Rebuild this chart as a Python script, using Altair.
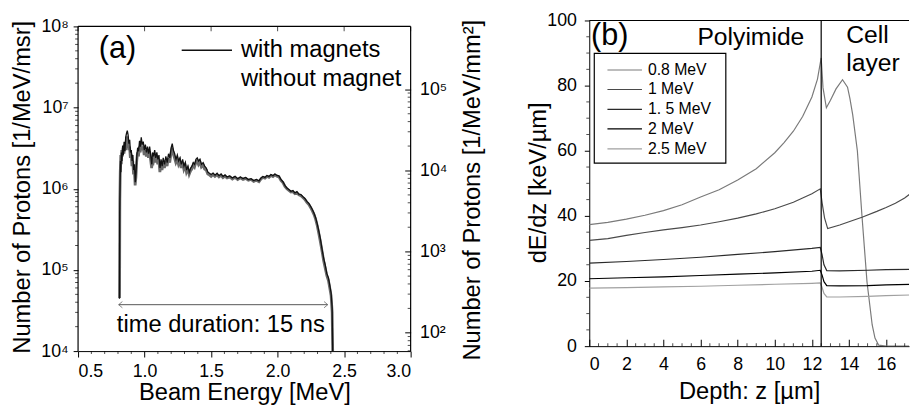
import altair as alt
import pandas as pd

FONT = "Liberation Sans"

# ---------------- Panel (a): proton spectrum ----------------
energy_with = [0.811, 0.813, 0.816, 0.819, 0.822, 0.826, 0.830, 0.835, 0.840, 0.846,
               0.852, 0.858, 0.864, 0.870, 0.876, 0.882, 0.888, 0.894, 0.900, 0.906,
               0.912, 0.918, 0.924, 0.930, 0.936, 0.942, 0.948, 0.955, 0.962, 0.968,
               0.975, 0.982, 0.990, 0.998, 1.006, 1.014, 1.022, 1.030, 1.038, 1.046,
               1.054, 1.060, 1.068, 1.076, 1.084, 1.092, 1.100, 1.108, 1.116, 1.124,
               1.132, 1.140, 1.150, 1.160, 1.170, 1.180, 1.190, 1.200, 1.208, 1.216,
               1.226, 1.236, 1.246, 1.256, 1.266, 1.276, 1.286, 1.296, 1.306, 1.316,
               1.326, 1.336, 1.346, 1.356, 1.366, 1.376, 1.386, 1.396, 1.406, 1.416,
               1.428, 1.440, 1.452, 1.464, 1.476, 1.488, 1.500, 1.515, 1.530, 1.545,
               1.560, 1.575, 1.590, 1.605, 1.620, 1.640, 1.660, 1.680, 1.700, 1.720,
               1.740, 1.760, 1.780, 1.800, 1.820, 1.840, 1.860, 1.875, 1.890, 1.905,
               1.920, 1.935, 1.950, 1.965, 1.980, 1.995, 2.010, 2.025, 2.040, 2.055,
               2.070, 2.085, 2.100, 2.115, 2.130, 2.145, 2.160, 2.175, 2.190, 2.205,
               2.220, 2.235, 2.250, 2.262, 2.274, 2.286, 2.298, 2.310, 2.322, 2.334,
               2.346, 2.358, 2.370, 2.382, 2.392, 2.402, 2.410, 2.414]
protons_with = [4.4e4, 5.0e5, 1.2e6, 2.2e6, 1.6e6, 2.8e6, 2.2e6, 3.4e6, 2.6e6, 3.8e6,
                2.9e6, 4.3e6, 4.8e6, 5.2e6, 4.6e6, 3.6e6, 4.0e6, 2.8e6, 3.0e6, 2.2e6,
                2.6e6, 1.7e6, 2.0e6, 1.2e6, 1.6e6, 2.6e6, 3.2e6, 2.9e6, 3.9e6, 3.3e6,
                4.3e6, 3.5e6, 3.8e6, 3.0e6, 3.5e6, 2.8e6, 3.3e6, 2.7e6, 3.3e6, 2.6e6,
                2.0e6, 2.8e6, 2.5e6, 3.0e6, 2.4e6, 2.8e6, 2.3e6, 2.6e6, 1.8e6, 2.3e6,
                1.9e6, 2.4e6, 2.0e6, 2.5e6, 2.1e6, 2.7e6, 2.4e6, 3.2e6, 3.6e6, 3.0e6,
                2.7e6, 2.3e6, 2.6e6, 2.2e6, 2.4e6, 2.0e6, 2.3e6, 1.9e6, 2.1e6, 1.7e6,
                1.9e6, 1.6e6, 1.8e6, 1.9e6, 2.1e6, 2.0e6, 2.3e6, 2.4e6, 2.2e6, 2.3e6,
                2.0e6, 2.1e6, 1.9e6, 1.8e6, 1.6e6, 1.55e6, 1.5e6, 1.56e6, 1.47e6, 1.55e6,
                1.45e6, 1.52e6, 1.42e6, 1.48e6, 1.40e6, 1.44e6, 1.36e6, 1.42e6, 1.33e6, 1.40e6,
                1.34e6, 1.38e6, 1.30e6, 1.33e6, 1.26e6, 1.30e6, 1.25e6, 1.36e6, 1.42e6, 1.38e6,
                1.46e6, 1.42e6, 1.50e6, 1.45e6, 1.52e6, 1.46e6, 1.44e6, 1.30e6, 1.22e6, 1.10e6,
                1.02e6, 9.8e5, 9.3e5, 9.5e5, 8.9e5, 9.2e5, 8.6e5, 8.5e5, 8.0e5, 7.6e5,
                7.0e5, 6.6e5, 6.0e5, 5.5e5, 5.0e5, 4.4e5, 3.7e5, 3.0e5, 2.4e5, 1.8e5,
                1.4e5, 1.15e5, 9.0e4, 8.0e4, 6.5e4, 5.2e4, 3.4e4, 1.0e4]

energy_without = [0.812, 0.814, 0.817, 0.821, 0.825, 0.829, 0.834, 0.839, 0.845, 0.851,
                  0.857, 0.863, 0.869, 0.875, 0.881, 0.887, 0.893, 0.899, 0.905, 0.911,
                  0.917, 0.923, 0.929, 0.935, 0.941, 0.947, 0.954, 0.961, 0.967, 0.974,
                  0.981, 0.989, 0.997, 1.005, 1.013, 1.021, 1.029, 1.037, 1.045, 1.053,
                  1.059, 1.067, 1.075, 1.083, 1.091, 1.099, 1.107, 1.115, 1.123, 1.131,
                  1.139, 1.149, 1.159, 1.169, 1.179, 1.189, 1.199, 1.207, 1.215, 1.225,
                  1.235, 1.245, 1.255, 1.265, 1.275, 1.285, 1.295, 1.305, 1.315, 1.325,
                  1.335, 1.345, 1.355, 1.365, 1.375, 1.385, 1.395, 1.405, 1.415, 1.427,
                  1.439, 1.451, 1.463, 1.475, 1.487, 1.500, 1.514, 1.529, 1.544, 1.559,
                  1.574, 1.589, 1.604, 1.620, 1.640, 1.660, 1.680, 1.700, 1.720, 1.740,
                  1.760, 1.780, 1.800, 1.820, 1.840, 1.860, 1.875, 1.890, 1.905, 1.920,
                  1.935, 1.950, 1.965, 1.980, 1.995, 2.010, 2.025, 2.040, 2.055, 2.070,
                  2.085, 2.100, 2.115, 2.130, 2.145, 2.160, 2.175, 2.190, 2.205, 2.220,
                  2.235, 2.250, 2.262, 2.274, 2.286, 2.298, 2.310, 2.322, 2.334, 2.346,
                  2.358, 2.370, 2.382, 2.392, 2.402, 2.410, 2.414]
protons_without = [4.5e4, 7.0e5, 1.6e6, 2.6e6, 2.0e6, 3.0e6, 2.5e6, 3.2e6, 2.7e6, 3.5e6,
                   3.0e6, 4.0e6, 4.4e6, 3.9e6, 3.0e6, 3.3e6, 2.4e6, 2.7e6, 1.9e6, 2.2e6,
                   1.5e6, 1.7e6, 1.1e6, 1.4e6, 2.2e6, 2.8e6, 2.5e6, 3.3e6, 2.8e6, 3.6e6,
                   3.0e6, 3.3e6, 2.6e6, 3.0e6, 2.5e6, 2.9e6, 2.4e6, 2.9e6, 2.3e6, 1.8e6,
                   2.4e6, 2.2e6, 2.6e6, 2.1e6, 2.5e6, 2.0e6, 2.3e6, 1.6e6, 2.0e6, 1.7e6,
                   2.1e6, 1.8e6, 2.2e6, 1.9e6, 2.4e6, 2.1e6, 2.8e6, 3.2e6, 2.7e6, 2.4e6,
                   2.1e6, 2.3e6, 2.0e6, 2.2e6, 1.8e6, 2.1e6, 1.75e6, 1.95e6, 1.6e6, 1.75e6,
                   1.5e6, 1.65e6, 1.75e6, 1.95e6, 1.85e6, 2.1e6, 2.2e6, 2.0e6, 2.15e6, 1.85e6,
                   1.95e6, 1.75e6, 1.7e6, 1.52e6, 1.48e6, 1.42e6, 1.50e6, 1.42e6, 1.49e6, 1.40e6,
                   1.46e6, 1.37e6, 1.43e6, 1.36e6, 1.40e6, 1.32e6, 1.38e6, 1.30e6, 1.36e6, 1.30e6,
                   1.34e6, 1.27e6, 1.30e6, 1.23e6, 1.27e6, 1.22e6, 1.32e6, 1.38e6, 1.35e6, 1.42e6,
                   1.38e6, 1.46e6, 1.41e6, 1.48e6, 1.43e6, 1.40e6, 1.27e6, 1.19e6, 1.07e6, 1.00e6,
                   9.5e5, 9.1e5, 9.2e5, 8.7e5, 8.9e5, 8.4e5, 8.2e5, 7.8e5, 7.4e5, 6.8e5,
                   6.4e5, 5.8e5, 5.3e5, 4.8e5, 4.2e5, 3.5e5, 2.8e5, 2.2e5, 1.7e5, 1.3e5,
                   1.05e5, 8.5e4, 7.4e4, 6.0e4, 4.8e4, 3.0e4, 1.0e4]

a_series = ["with magnets", "without magnet"]
a_title = "(a)"
a_note = "time duration: 15 ns"

# axis ticks / labels of panel (a)
a_x_major = [0.5, 1.0, 1.5, 2.0, 2.5, 3.0]
a_x_labels = ["0.5", "1.0", "1.5", "2.0", "2.5", "3.0"]
a_x_minor = [0.6, 0.7, 0.8, 0.9, 1.1, 1.2, 1.3, 1.4, 1.6, 1.7, 1.8, 1.9,
             2.1, 2.2, 2.3, 2.4, 2.6, 2.7, 2.8, 2.9]
left_decades = [1e4, 1e5, 1e6, 1e7, 1e8]
left_labels = ["10⁴", "10⁵", "10⁶", "10⁷", "10⁸"]
right_decades = [1e2, 1e3, 1e4, 1e5]
right_labels = ["10²", "10³", "10⁴", "10⁵"]
minor_multipliers = [2, 3, 4, 5, 6, 7, 8, 9]

# unit conversion between the two y axes (right 1e4 sits at left ~1.68e6)
RIGHT_FACTOR = 10 ** -2.225

# ---------------- Panel (b): stopping power ----------------
b_labels = ["0.8 MeV", "1 MeV", "1. 5 MeV", "2 MeV", "2.5 MeV"]
b_colors = ["#7a7a7a", "#4a4a4a", "#2a2a2a", "#000000", "#a0a0a0"]
b_widths = [1.2, 1.2, 1.4, 1.5, 1.2]

z_08 = [0, 1, 2, 3, 4, 5, 6, 7, 8, 9, 10, 10.5, 11, 11.5, 12, 12.3, 12.5, 12.6, 12.78,
        13.0, 13.3, 13.65, 13.92, 14.05, 14.2, 14.45, 14.7, 14.97, 15.25, 15.4, 15.6, 16.0, 17.3]
de_08 = [37.3, 38.0, 39.0, 40.2, 41.6, 43.4, 45.8, 48.0, 51.0, 54.5, 59.4, 62.5, 66.0, 70.5,
         76.5, 82.0, 88.5, 79.3, 73.2, 75.5, 79.0, 81.8, 79.5, 76.0, 71.0, 60.0, 39.9, 19.7,
         6.5, 2.5, 0.3, 0.0, 0.0]
z_10 = [0, 1, 2, 3, 4, 5, 6, 7, 8, 9, 10, 11, 12, 12.45, 12.55, 12.68, 12.85, 13.5, 14,
        14.7, 15.5, 16.0, 16.5, 17.0, 17.3]
de_10 = [32.5, 33.0, 34.0, 34.9, 35.7, 36.4, 37.2, 38.2, 39.3, 40.6, 42.2, 44.2, 46.8, 48.3,
         44.0, 39.4, 36.1, 37.2, 38.2, 39.6, 41.4, 42.6, 43.9, 45.5, 46.8]
z_15 = [0, 2, 4, 6, 8, 10, 12, 12.45, 12.55, 12.65, 12.8, 13.5, 15, 16, 17.3]
de_15 = [25.5, 26.0, 26.6, 27.3, 28.2, 29.0, 30.0, 30.3, 28.0, 25.0, 23.2, 23.1, 23.3, 23.5, 23.6]
z_20 = [0, 2, 4, 6, 8, 10, 12, 12.45, 12.55, 12.65, 12.8, 13.5, 15, 16, 17.3]
de_20 = [20.7, 21.0, 21.3, 21.7, 22.1, 22.5, 23.0, 23.3, 21.8, 19.8, 18.6, 18.5, 18.6, 18.8, 19.0]
z_25 = [0, 2, 4, 6, 8, 10, 12, 12.45, 12.55, 12.65, 12.8, 13.5, 15, 16, 17.3]
de_25 = [17.8, 18.0, 18.2, 18.4, 18.7, 19.0, 19.3, 19.4, 18.0, 16.2, 15.1, 15.1, 15.3, 15.5, 15.7]

b_x_major = [0, 2, 4, 6, 8, 10, 12, 14, 16]
b_x_minor = [0.5, 1, 1.5, 2.5, 3, 3.5, 4.5, 5, 5.5, 6.5, 7, 7.5, 8.5, 9, 9.5, 10.5, 11, 11.5,
             12.5, 13, 13.5, 14.5, 15, 15.5, 16.5, 17]
b_y_major = [0, 20, 40, 60, 80, 100]
b_y_minor = [5, 10, 15, 25, 30, 35, 45, 50, 55, 65, 70, 75, 85, 90, 95]
interface_z = 12.5
b_regions = ["Polyimide", "Cell", "layer"]

# ---------------- layout constants ----------------
A_W, A_H = 337, 335          # panel (a) plot (top 6 px left blank above 1e8)
B_W, B_H = 324, 330
A_TOP = 10 ** (8 + 6 / 82.25)
B_XMAX = B_W / 18.8


def label_expr(values, labels):
    parts = [f"datum.value == {v!r} ? '{l}'" for v, l in zip(values, labels)]
    return " : ".join(parts) + " : ''"


# ======================= PANEL (a) =======================
xs_a = alt.Scale(domain=[0.5, 3.0], nice=False, zero=False)
ys_a = alt.Scale(type="log", domain=[1e4, A_TOP], nice=False)
r_lo, r_hi = 1e4 * RIGHT_FACTOR, A_TOP * RIGHT_FACTOR
ys_r = alt.Scale(type="log", domain=[r_lo, r_hi], nice=False)

left_minor = [m * d for d in left_decades[:-1] for m in minor_multipliers]
right_minor = [m * d for d in [1e1] + right_decades for m in minor_multipliers if r_lo <= m * d <= 1e5]

x_axis_a = alt.Axis(
    values=a_x_major, labelExpr=label_expr(a_x_major, a_x_labels),
    tickSize=6, labelPadding=6, title="Beam Energy [MeV]",
    titleY=42, titleBaseline="middle", labelOverlap=False,
)
y_axis_a = alt.Axis(
    values=left_decades, labelExpr=label_expr(left_decades, left_labels),
    tickSize=5, labelPadding=5, domain=False, title="Number of Protons [1/MeV/msr]",
    titleX=-56, titleY=A_H / 2 + 1, titleAngle=270, titleBaseline="middle", titleAlign="center",
    labelOverlap=False,
)
y_axis_r = alt.Axis(
    orient="right", values=right_decades, labelExpr=label_expr(right_decades, right_labels),
    tickSize={"expr": "-6"}, labelPadding=15, domain=False,
    title="Number of Protons [1/MeV/mm²]",
    titleX=63, titleY=A_H / 2 + 4, titleAngle=270, titleBaseline="middle", titleAlign="center",
    labelOverlap=False,
)

X_A = lambda f: alt.X(f, scale=xs_a, axis=x_axis_a)
Y_A = lambda f: alt.Y(f, scale=ys_a, axis=y_axis_a)
Y_R = lambda f: alt.Y(f, scale=ys_r, axis=y_axis_r)

df_with = pd.DataFrame({"E": energy_with, "N": protons_with})
df_without = pd.DataFrame({"E": energy_without, "N": protons_without})

line_without = alt.Chart(df_without).mark_line(color="#6a6a6a", strokeWidth=2.8, clip=True).encode(
    x=X_A("E:Q"), y=Y_A("N:Q"),
)
line_with = alt.Chart(df_with).mark_line(color="#111111", strokeWidth=1.3, clip=True).encode(
    x=X_A("E:Q"), y=Y_A("N:Q"),
)

frame_a = pd.DataFrame({
    "E": [0.5, 0.5, 3.0], "x2": [3.0, 0.5, 3.0],
    "N": [1e8, 1e4, 1e4], "y2": [1e8, 1e8, 1e8],
})
border_a = alt.Chart(frame_a).mark_rule(color="black", strokeWidth=1.2).encode(
    x=X_A("E:Q"), x2="x2:Q", y=Y_A("N:Q"), y2="y2:Q",
)
top_ticks_a = alt.Chart(pd.DataFrame({"E": a_x_major, "N": [1e8] * 6})).mark_tick(
    orient="vertical", size=5, thickness=1, yOffset=2.5, color="black"
).encode(x=X_A("E:Q"), y=Y_A("N:Q"))
bottom_minor_a = alt.Chart(pd.DataFrame({"E": a_x_minor, "N": [1e4] * len(a_x_minor)})).mark_tick(
    orient="vertical", size=3, thickness=1, yOffset=1.5, color="black"
).encode(x=X_A("E:Q"), y=Y_A("N:Q"))
left_minor_a = alt.Chart(pd.DataFrame({"N": left_minor, "E": [0.5] * len(left_minor)})).mark_tick(
    orient="horizontal", size=3, thickness=1, xOffset=-1.5, color="black"
).encode(x=X_A("E:Q"), y=Y_A("N:Q"))


def text_a(s, x, y, size, align="left"):
    return alt.Chart(pd.DataFrame({"t": [s], "E": [x], "N": [y]})).mark_text(
        fontSize=size, align=align, baseline="middle", font=FONT, color="black"
    ).encode(x=X_A("E:Q"), y=Y_A("N:Q"), text="t:N")


legend_line_a = alt.Chart(pd.DataFrame({"E": [1.279], "x2": [1.657], "N": [5.1e7]})).mark_rule(
    color="#111111", strokeWidth=1.5
).encode(x=X_A("E:Q"), x2="x2:Q", y=Y_A("N:Q"))

arrow_df = pd.DataFrame({"E": [0.806], "x2": [2.376], "N": [3.73e4]})
arrow_line = alt.Chart(arrow_df).mark_rule(color="#555555", strokeWidth=1).encode(
    x=X_A("E:Q"), x2="x2:Q", y=Y_A("N:Q"),
)
heads_df = pd.DataFrame({"E": [0.806, 2.376], "N": [3.73e4, 3.73e4], "d": ["L", "R"]})
arrow_left = alt.Chart(heads_df).transform_filter("datum.d == 'L'").mark_point(
    shape="M 0.2 -1 L -1 0 L 0.2 1", size=40, filled=False, color="#555555", strokeWidth=1, xOffset=3
).encode(x=X_A("E:Q"), y=Y_A("N:Q"))
arrow_right = alt.Chart(heads_df).transform_filter("datum.d == 'R'").mark_point(
    shape="M -0.2 -1 L 1 0 L -0.2 1", size=40, filled=False, color="#555555", strokeWidth=1, xOffset=-3
).encode(x=X_A("E:Q"), y=Y_A("N:Q"))

left_group = alt.layer(
    line_without, line_with, border_a, top_ticks_a, bottom_minor_a, left_minor_a,
    legend_line_a,
    text_a(a_series[0], 1.724, 5.1e7, 24),
    text_a(a_series[1], 1.724, 2.27e7, 24),
    text_a(a_title, 0.656, 5.25e7, 31),
    arrow_line, arrow_left, arrow_right,
    text_a(a_note, 1.573, 2.07e4, 24, align="center"),
)

right_axis_layer = alt.Chart(pd.DataFrame({"R": right_decades})).mark_point(opacity=0).encode(
    y=Y_R("R:Q"),
)
right_minor_layer = alt.Chart(pd.DataFrame({"R": right_minor, "E": [3.0] * len(right_minor)})).mark_tick(
    orient="horizontal", size=3, thickness=1, xOffset=-1.5, color="black"
).encode(x=X_A("E:Q"), y=Y_R("R:Q"))
right_group = alt.layer(right_axis_layer, right_minor_layer)

panel_a = alt.layer(left_group, right_group).resolve_scale(y="independent").properties(
    width=A_W, height=A_H
)

# ======================= PANEL (b) =======================
xs_b = alt.Scale(domain=[0, B_XMAX], nice=False, zero=False)
ys_b = alt.Scale(domain=[0, 100], nice=False, zero=False)

x_axis_b = alt.Axis(
    values=b_x_major, format="d", tickSize={"expr": "-7"},
    labelPadding=17, title="Depth: z [µm]", titleY=46, titleBaseline="middle", labelOverlap=False,
)
y_axis_b = alt.Axis(
    values=b_y_major, format="d", tickSize=5, labelPadding=8,
    title="dE/dz [keV/µm]", titleX=-51, titleY=B_H / 2 - 1, titleAngle=270,
    titleBaseline="middle", titleAlign="center", labelOverlap=False,
)
X_B = lambda f: alt.X(f, scale=xs_b, axis=x_axis_b)
Y_B = lambda f: alt.Y(f, scale=ys_b, axis=y_axis_b)

rows = []
for lab, zs, ds in zip(b_labels, [z_08, z_10, z_15, z_20, z_25], [de_08, de_10, de_15, de_20, de_25]):
    for z, d in zip(zs, ds):
        rows.append({"series": lab, "z": z, "dE": d})
df_b = pd.DataFrame(rows)

color_b = alt.Color("series:N", scale=alt.Scale(domain=b_labels, range=b_colors), legend=None)
width_b = alt.StrokeWidth("series:N", scale=alt.Scale(domain=b_labels, range=b_widths), legend=None)

lines_b = alt.Chart(df_b).mark_line(clip=True).encode(
    x=X_B("z:Q"), y=Y_B("dE:Q"),
    color=color_b, strokeWidth=width_b, detail="series:N",
)

frame_b = pd.DataFrame({"z": [0, interface_z], "x2": [B_XMAX, interface_z], "dE": [100, 0], "y2": [100, 100]})
border_b = alt.Chart(frame_b).mark_rule(color="black", strokeWidth=1.2).encode(
    x=X_B("z:Q"), x2="x2:Q", y=Y_B("dE:Q"), y2="y2:Q",
)
bottom_minor_b = alt.Chart(pd.DataFrame({"z": b_x_minor, "dE": [0] * len(b_x_minor)})).mark_tick(
    orient="vertical", size=3, thickness=1, yOffset=-1.5, color="black"
).encode(x=X_B("z:Q"), y=Y_B("dE:Q"))
left_minor_b = alt.Chart(pd.DataFrame({"dE": b_y_minor, "z": [0] * len(b_y_minor)})).mark_tick(
    orient="horizontal", size=3, thickness=1, xOffset=-1.5, color="black"
).encode(x=X_B("z:Q"), y=Y_B("dE:Q"))

legend_box = alt.Chart(pd.DataFrame({"z": [0.27], "x2": [7.36], "dE": [56.2], "y2": [89.9]})).mark_rect(
    fill="white", stroke="black", strokeWidth=1.2
).encode(x=X_B("z:Q"), x2="x2:Q", y=Y_B("dE:Q"), y2="y2:Q")
legend_rows_y = [84.8, 78.8, 72.7, 66.7, 60.6]
leg_df = pd.DataFrame({"series": b_labels, "dE": legend_rows_y, "z": [0.98] * 5, "x2": [2.84] * 5})
legend_lines = alt.Chart(leg_df).mark_rule().encode(
    x=X_B("z:Q"), x2="x2:Q", y=Y_B("dE:Q"), color=color_b, strokeWidth=width_b,
)
leg_txt_df = pd.DataFrame({"series": b_labels, "dE": legend_rows_y, "z": [3.16] * 5})
legend_text = alt.Chart(leg_txt_df).mark_text(
    fontSize=16, align="left", baseline="middle", font=FONT, color="black"
).encode(x=X_B("z:Q"), y=Y_B("dE:Q"), text="series:N")


def text_b(s, x, y, size, align="left"):
    return alt.Chart(pd.DataFrame({"t": [s], "z": [x], "dE": [y]})).mark_text(
        fontSize=size, align=align, baseline="middle", font=FONT, color="black"
    ).encode(x=X_B("z:Q"), y=Y_B("dE:Q"), text="t:N")


panel_b = alt.layer(
    lines_b, border_b, bottom_minor_b, left_minor_b, legend_box, legend_lines, legend_text,
    text_b("(b)", 0.1, 95.3, 31),
    text_b(b_regions[0], 8.71, 94.9, 25, align="center"),
    text_b(b_regions[1], 13.85, 95.5, 25),
    text_b(b_regions[2], 13.85, 86.8, 25),
).properties(width=B_W, height=B_H)

chart = alt.hconcat(panel_a, panel_b, spacing=42).properties(
    padding={"left": 2, "top": 1, "right": 0, "bottom": 0}
).configure_axis(
    labelFont=FONT, titleFont=FONT, labelFontSize=18, titleFontSize=24,
    titleFontWeight="normal", labelColor="black", titleColor="black",
    domainColor="black", tickColor="black", grid=False, labelBound=False,
).configure_view(stroke=None)

chart.save("out.html", embed_options={"renderer": "svg", "actions": False})
